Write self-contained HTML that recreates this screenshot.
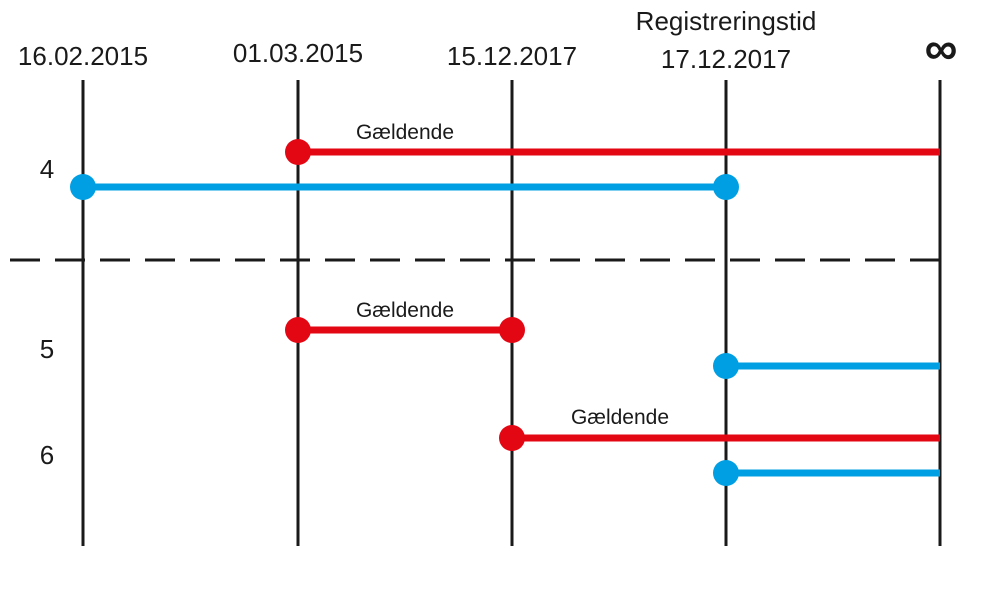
<!DOCTYPE html>
<html><head><meta charset="utf-8"><style>html,body{margin:0;padding:0;background:#fff}</style></head>
<body>
<svg width="995" height="589" viewBox="0 0 995 589" xmlns="http://www.w3.org/2000/svg" font-family="Liberation Sans, DejaVu Sans, sans-serif" fill="#1a1a1a">
<g stroke="#1a1a1a" stroke-width="3">
<line x1="83" y1="80" x2="83" y2="546"/>
<line x1="298" y1="80" x2="298" y2="546"/>
<line x1="512" y1="80" x2="512" y2="546"/>
<line x1="726" y1="80" x2="726" y2="546"/>
<line x1="940" y1="80" x2="940" y2="546"/>
<line x1="10" y1="260" x2="940" y2="260" stroke-dasharray="30,15"/>
</g>
<g font-size="26" text-anchor="middle">
<text x="83" y="65">16.02.2015</text>
<text x="298" y="62">01.03.2015</text>
<text x="512" y="65">15.12.2017</text>
<text x="726" y="30">Registreringstid</text>
<text x="726" y="68">17.12.2017</text>
<text x="941" y="64" font-size="46" font-weight="bold">∞</text>
<text x="47" y="178">4</text>
<text x="47" y="358">5</text>
<text x="47" y="464">6</text>
</g>
<g font-size="21" text-anchor="middle">
<text x="405" y="139">Gældende</text>
<text x="405" y="317">Gældende</text>
<text x="620" y="424">Gældende</text>
</g>
<g stroke-width="7">
<line x1="298" y1="152" x2="940" y2="152" stroke="#e30613"/>
<line x1="83" y1="187" x2="726" y2="187" stroke="#009fe3"/>
<line x1="298" y1="330" x2="512" y2="330" stroke="#e30613"/>
<line x1="726" y1="366" x2="940" y2="366" stroke="#009fe3"/>
<line x1="512" y1="438" x2="940" y2="438" stroke="#e30613"/>
<line x1="726" y1="473" x2="940" y2="473" stroke="#009fe3"/>
</g>
<g>
<circle cx="298" cy="152" r="13" fill="#e30613"/>
<circle cx="83" cy="187" r="13" fill="#009fe3"/>
<circle cx="726" cy="187" r="13" fill="#009fe3"/>
<circle cx="298" cy="330" r="13" fill="#e30613"/>
<circle cx="512" cy="330" r="13" fill="#e30613"/>
<circle cx="726" cy="366" r="13" fill="#009fe3"/>
<circle cx="512" cy="438" r="13" fill="#e30613"/>
<circle cx="726" cy="473" r="13" fill="#009fe3"/>
</g>
</svg>
</body></html>
